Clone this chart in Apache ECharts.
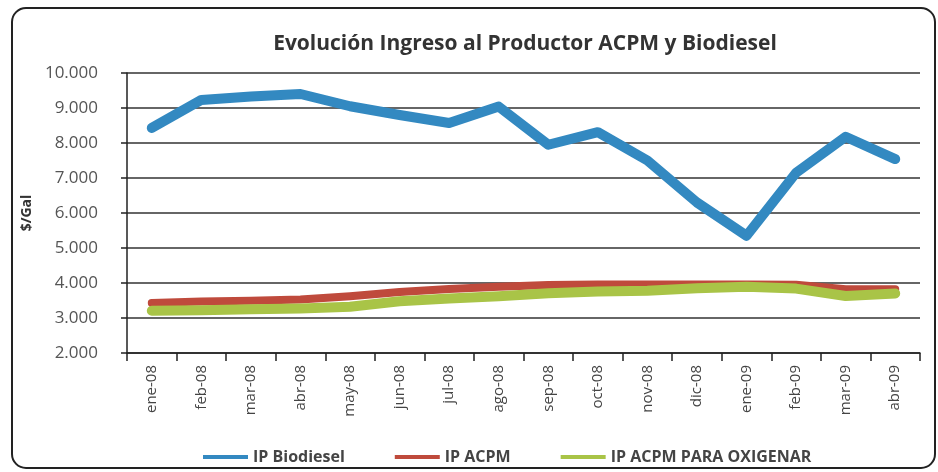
<!DOCTYPE html>
<html><head><meta charset="utf-8">
<script src="https://cdn.jsdelivr.net/npm/echarts@6/dist/echarts.min.js"></script>
<style>html,body{margin:0;padding:0;background:#fff}#c{width:938px;height:472px}</style>
</head><body><div id="c"></div>
<script>
var categories = ['ene-08','feb-08','mar-08','abr-08','may-08','jun-08','jul-08','ago-08','sep-08','oct-08','nov-08','dic-08','ene-09','feb-09','mar-09','abr-09'];
var ipBiodiesel = [8430, 9230, 9330, 9400, 9050, 8800, 8570, 9040, 7950, 8310, 7500, 6300, 5350, 7150, 8180, 7540];
var ipAcpm = [3430, 3470, 3490, 3530, 3620, 3740, 3830, 3890, 3940, 3960, 3960, 3960, 3960, 3950, 3820, 3820];
var ipAcpmOx = [3210, 3220, 3250, 3270, 3320, 3480, 3560, 3620, 3710, 3760, 3780, 3850, 3890, 3840, 3630, 3700];
var seriesNames = ['IP Biodiesel', 'IP ACPM', 'IP ACPM PARA OXIGENAR'];
var yMin = 2000, yMax = 10000, yStep = 1000;

var colors = ['#3389c1', '#bf4a3c', '#a9c447'];
var chart = echarts.init(document.getElementById('c'));
function fmt(v){ return String(v).replace(/\B(?=(\d{3})+(?!\d))/g, '.'); }
chart.setOption({
  animation: false,
  textStyle: {fontFamily: 'Open Sans'},
  graphic: [{
    type: 'rect', shape: {x: 12, y: 8, width: 923, height: 460, r: 14},
    style: {fill: 'none', stroke: '#222', lineWidth: 2}, z: -1
  }],
  title: {
    text: 'Evolución Ingreso al Productor ACPM y Biodiesel',
    left: 520, textAlign: 'center', top: 29,
    textStyle: {fontFamily: 'Open Sans', fontWeight: 'bold', fontSize: 21, color: '#333'}
  },
  legend: {
    data: seriesNames, left: 198, top: 444, width: 720, orient: 'horizontal',
    itemWidth: 45, itemHeight: 4, icon: 'rect', itemGap: 50,
    textStyle: {fontFamily: 'Open Sans', fontWeight: 'bold', fontSize: 16, color: '#444'}
  },
  grid: {left: 127, right: 18, top: 73, bottom: 119},
  xAxis: {
    type: 'category', data: categories, boundaryGap: true,
    axisLine: {lineStyle: {color: '#222', width: 1.5}},
    axisTick: {show: true, interval: 0, length: 8, lineStyle: {color: '#222', width: 1.5}},
    axisLabel: {rotate: 90, interval: 0, fontSize: 15, color: '#444', margin: 12}
  },
  yAxis: {
    type: 'value', min: yMin, max: yMax, interval: yStep,
    name: '$/Gal', nameLocation: 'middle', nameGap: 92, nameRotate: 90,
    nameTextStyle: {fontWeight: 'bold', fontSize: 14, color: '#333'},
    axisLine: {show: true, lineStyle: {color: '#222', width: 1.5}},
    axisTick: {show: true, length: 6, lineStyle: {color: '#222', width: 1.5}},
    splitLine: {lineStyle: {color: '#333', width: 1.5}},
    axisLabel: {formatter: fmt, fontSize: 17, color: '#555', margin: 29}
  },
  series: [
    {name: seriesNames[0], type: 'line', data: ipBiodiesel, symbol: 'none', color: colors[0],
     lineStyle: {width: 10, cap: 'round', join: 'round'}},
    {name: seriesNames[1], type: 'line', data: ipAcpm, symbol: 'none', color: colors[1],
     lineStyle: {width: 8, cap: 'round', join: 'round'}},
    {name: seriesNames[2], type: 'line', data: ipAcpmOx, symbol: 'none', color: colors[2],
     lineStyle: {width: 10, cap: 'round', join: 'round'}}
  ]
});
</script></body></html>
